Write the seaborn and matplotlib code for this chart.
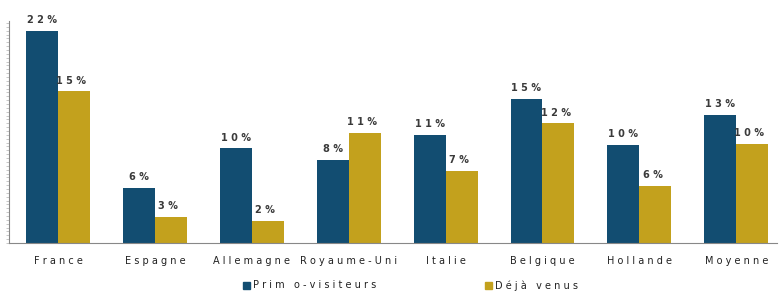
import pandas as pd
import seaborn as sns
import matplotlib.pyplot as plt
from matplotlib.ticker import MultipleLocator

# Data
pays = ['France', 'Espagne', 'Allemagne', 'Royaume-Uni', 'Italie', 'Belgique', 'Hollande', 'Moyenne']
primo = [22.0, 5.7, 9.8, 8.6, 11.2, 14.9, 10.2, 13.3]
deja = [15.7, 2.7, 2.3, 11.4, 7.5, 12.4, 5.9, 10.3]
primoLab = ['22%', '6%', '10%', '8%', '11%', '15%', '10%', '13%']
dejaLab = ['15%', '3%', '2%', '11%', '7%', '12%', '6%', '10%']
series = ['Primo-visiteurs', 'Déjà venus']

colBlue = '#124d71'
colGold = '#c3a11d'
txtCol = '#3a3a3a'


def spaced(s):
    return ' '.join(s)


df = pd.DataFrame({'pays': pays * 2,
                   'val': primo + deja,
                   'serie': [series[0]] * len(pays) + [series[1]] * len(pays)})

sns.set_style('white')
fig = plt.figure(figsize=(7.79, 2.94), dpi=100)
ax = fig.add_axes([9 / 779, 51 / 294, 768 / 779, 222 / 294])
sns.barplot(data=df, x='pays', y='val', hue='serie', palette=[colBlue, colGold],
            width=0.66, gap=0, saturation=1, linewidth=0, ax=ax, legend=False)

ax.set_xlim(-0.505, 7.42)
ax.set_ylim(0, 23)

# data labels
for cont, labs, dx in zip(ax.containers, [primoLab, dejaLab], [0, -0.03]):
    for bar, lab in zip(cont, labs):
        ax.text(bar.get_x() + bar.get_width() / 2 + dx, bar.get_height() + 0.6, spaced(lab),
                ha='center', va='bottom', fontsize=7, color=txtCol, fontweight='semibold')

ax.set_xticks(range(len(pays)))
ax.set_xticklabels([spaced(p) for p in pays], fontsize=7, color='#222222')
ax.tick_params(axis='x', length=0, pad=9)
ax.set_yticks([])
ax.yaxis.set_minor_locator(MultipleLocator(0.4))
ax.tick_params(axis='y', which='minor', length=2, color='#b0b0b0', width=0.5, left=True)
ax.set_xlabel('')
ax.set_ylabel('')
sns.despine(ax=ax, top=True, right=True)
for s in ['left', 'bottom']:
    ax.spines[s].set_color('#888888')
    ax.spines[s].set_linewidth(0.8)

# legend
for xp, lab, c in [(243, series[0], colBlue), (485, series[1], colGold)]:
    fig.patches.append(plt.Rectangle((xp / 779, 5 / 294), 7 / 779, 7 / 294, color=c,
                                     transform=fig.transFigure, figure=fig))
    fig.text((xp + 10) / 779, 8.5 / 294, spaced(lab.replace('Primo-', 'Prim o-')), fontsize=7,
             color='#222222', va='center', ha='left')

fig.savefig('out.png', dpi=100)
